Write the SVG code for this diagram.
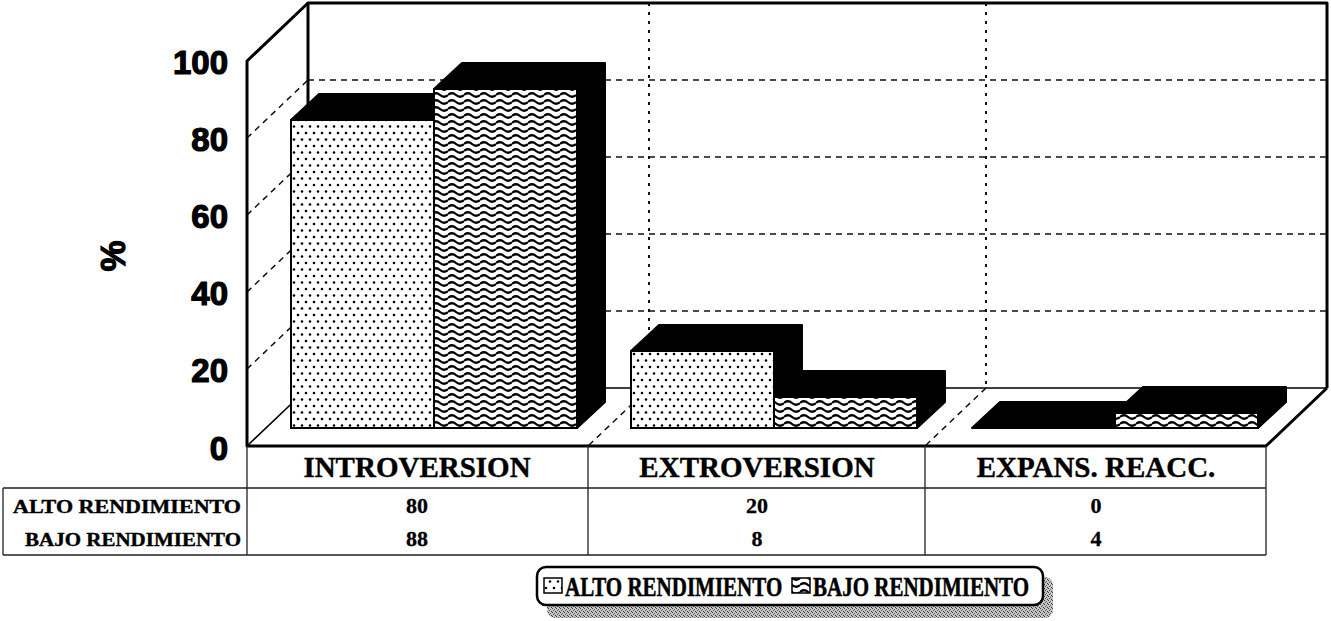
<svg xmlns="http://www.w3.org/2000/svg" width="1331" height="621" viewBox="0 0 1331 621">
<defs>
<pattern id="dots" width="8" height="13" patternUnits="userSpaceOnUse">
<rect width="8" height="13" fill="#fff"/>
<circle cx="2" cy="3" r="1.3" fill="#000"/>
<circle cx="6" cy="9.5" r="1.3" fill="#000"/>
</pattern>
<pattern id="waves" width="16" height="7" patternUnits="userSpaceOnUse">
<rect width="16" height="7" fill="#fff"/>
<path d="M0,4 Q4,0.5 8,4 T16,4" fill="none" stroke="#000" stroke-width="2.3"/>
</pattern>
<pattern id="grain" width="4" height="4" patternUnits="userSpaceOnUse">
<rect width="4" height="4" fill="#c4c4c4"/>
<rect x="0" y="0" width="1" height="1" fill="#444"/>
<rect x="2" y="1" width="1" height="1" fill="#666"/>
<rect x="1" y="2" width="1" height="1" fill="#555"/>
<rect x="3" y="3" width="1" height="1" fill="#333"/>
</pattern>
<style>
.solid{fill:none;stroke:#000;stroke-width:3;stroke-linejoin:round}
.thin{fill:none;stroke:#000;stroke-width:1.6}
.dash{fill:none;stroke:#111;stroke-width:1.5;stroke-dasharray:6 5}
.vdash{fill:none;stroke:#111;stroke-width:2;stroke-dasharray:3 6}
.ax{font-family:"Liberation Sans",Arial,sans-serif;font-weight:bold;font-size:33px;text-anchor:end;stroke:#000;stroke-width:1.2}
.hd{font-family:"Liberation Serif","Times New Roman",serif;font-weight:bold;font-size:29px;text-anchor:middle;stroke:#000;stroke-width:0.4}
.val{font-family:"Liberation Serif","Times New Roman",serif;font-weight:bold;font-size:22px;text-anchor:middle;stroke:#000;stroke-width:0.3}
.rl{font-family:"Liberation Serif","Times New Roman",serif;font-weight:bold;font-size:19px;text-anchor:end;stroke:#000;stroke-width:0.4}
.lg{font-family:"Liberation Serif","Times New Roman",serif;font-weight:bold;font-size:21px;stroke:#000;stroke-width:0.4}
.tl{stroke:#222;stroke-width:1.3;fill:none}
.side{fill:#000;stroke:#000;stroke-width:2;stroke-linejoin:round}
.front{stroke:#000;stroke-width:2}
</style>
</defs>
<rect width="1331" height="621" fill="#fff"/>

<g id="grid">
<path class="dash" d="M308,80H1327M308,157H1327M308,234H1327M308,311H1327"/>
<path class="dash" d="M247,138L308,80M247,215L308,157M247,292L308,234M247,369L308,311"/>
<path class="vdash" d="M649,3V388M986,3V388"/>
<path class="dash" d="M649,388L588,446M986,388L925,446"/>
</g>

<g id="frame">
<path class="solid" d="M308,388V3H1327V388"/>
<path class="thin" d="M308,388H1327M247,446L308,388"/>
<path class="solid" d="M308,3L247,61V446H1266L1327,388"/>
</g>

<g id="bars">
<g id="intro">
<path class="side" d="M291,428L291,120L319,94L462,94L462,402L434,428Z"/>
<rect class="front" x="291" y="120" width="143" height="308" fill="url(#dots)"/>
<path class="side" d="M434,428L434,89L462,63L605,63L605,402L577,428Z"/>
<rect class="front" x="434" y="89" width="143" height="339" fill="url(#waves)"/>
</g>
<g id="extro">
<path class="side" d="M631,428L631,351L659,325L802,325L802,402L774,428Z"/>
<rect class="front" x="631" y="351" width="143" height="77" fill="url(#dots)"/>
<path class="side" d="M774,428L774,397L802,371L945,371L945,402L917,428Z"/>
<rect class="front" x="774" y="397" width="143" height="31" fill="url(#waves)"/>
</g>
<g id="expans">
<path class="side" d="M972,428L1000,402L1143,402L1115,428Z"/>
<path class="side" d="M1115,428L1115,413L1143,387L1286,387L1286,402L1258,428Z"/>
<rect class="front" x="1115" y="413" width="143" height="15" fill="url(#waves)"/>
</g>
</g>

<g id="axis">
<text class="ax" x="228" y="74">100</text>
<text class="ax" x="228" y="151">80</text>
<text class="ax" x="228" y="228">60</text>
<text class="ax" x="228" y="305">40</text>
<text class="ax" x="228" y="382">20</text>
<text class="ax" x="228" y="460">0</text>
<text class="ax" x="0" y="0" style="text-anchor:middle;font-size:35px" transform="translate(125,256) rotate(-90)">%</text>
</g>

<g id="table">
<path class="tl" d="M247,446V555M588,446V555M925,446V555M1266,446V555M3,488V555M3,488H1266M3,555H1266"/>
<text class="hd" x="417" y="477">INTROVERSION</text>
<text class="hd" x="757" y="477">EXTROVERSION</text>
<text class="hd" x="1096" y="477">EXPANS. REACC.</text>
<text class="rl" x="241" y="513" textLength="228" lengthAdjust="spacingAndGlyphs">ALTO RENDIMIENTO</text>
<text class="rl" x="241" y="546" textLength="216" lengthAdjust="spacingAndGlyphs">BAJO RENDIMIENTO</text>
<text class="val" x="417" y="513">80</text>
<text class="val" x="757" y="513">20</text>
<text class="val" x="1096" y="513">0</text>
<text class="val" x="417" y="546">88</text>
<text class="val" x="757" y="546">8</text>
<text class="val" x="1096" y="546">4</text>
</g>

<g id="legend">
<rect x="547" y="577" width="506" height="41" rx="8" fill="url(#grain)"/>
<rect x="537" y="567" width="506" height="38" rx="9" fill="#fff" stroke="#000" stroke-width="2.5"/>
<rect x="544" y="578" width="18" height="15" fill="url(#dots)" stroke="#000" stroke-width="1.5"/>
<text class="lg" transform="translate(565,596) scale(1,1.25)">ALTO RENDIMIENTO</text>
<rect x="792" y="578" width="18" height="15" fill="url(#waves)" stroke="#000" stroke-width="1.5"/>
<text class="lg" transform="translate(813,596) scale(1,1.25)">BAJO RENDIMIENTO</text>
</g>
</svg>
